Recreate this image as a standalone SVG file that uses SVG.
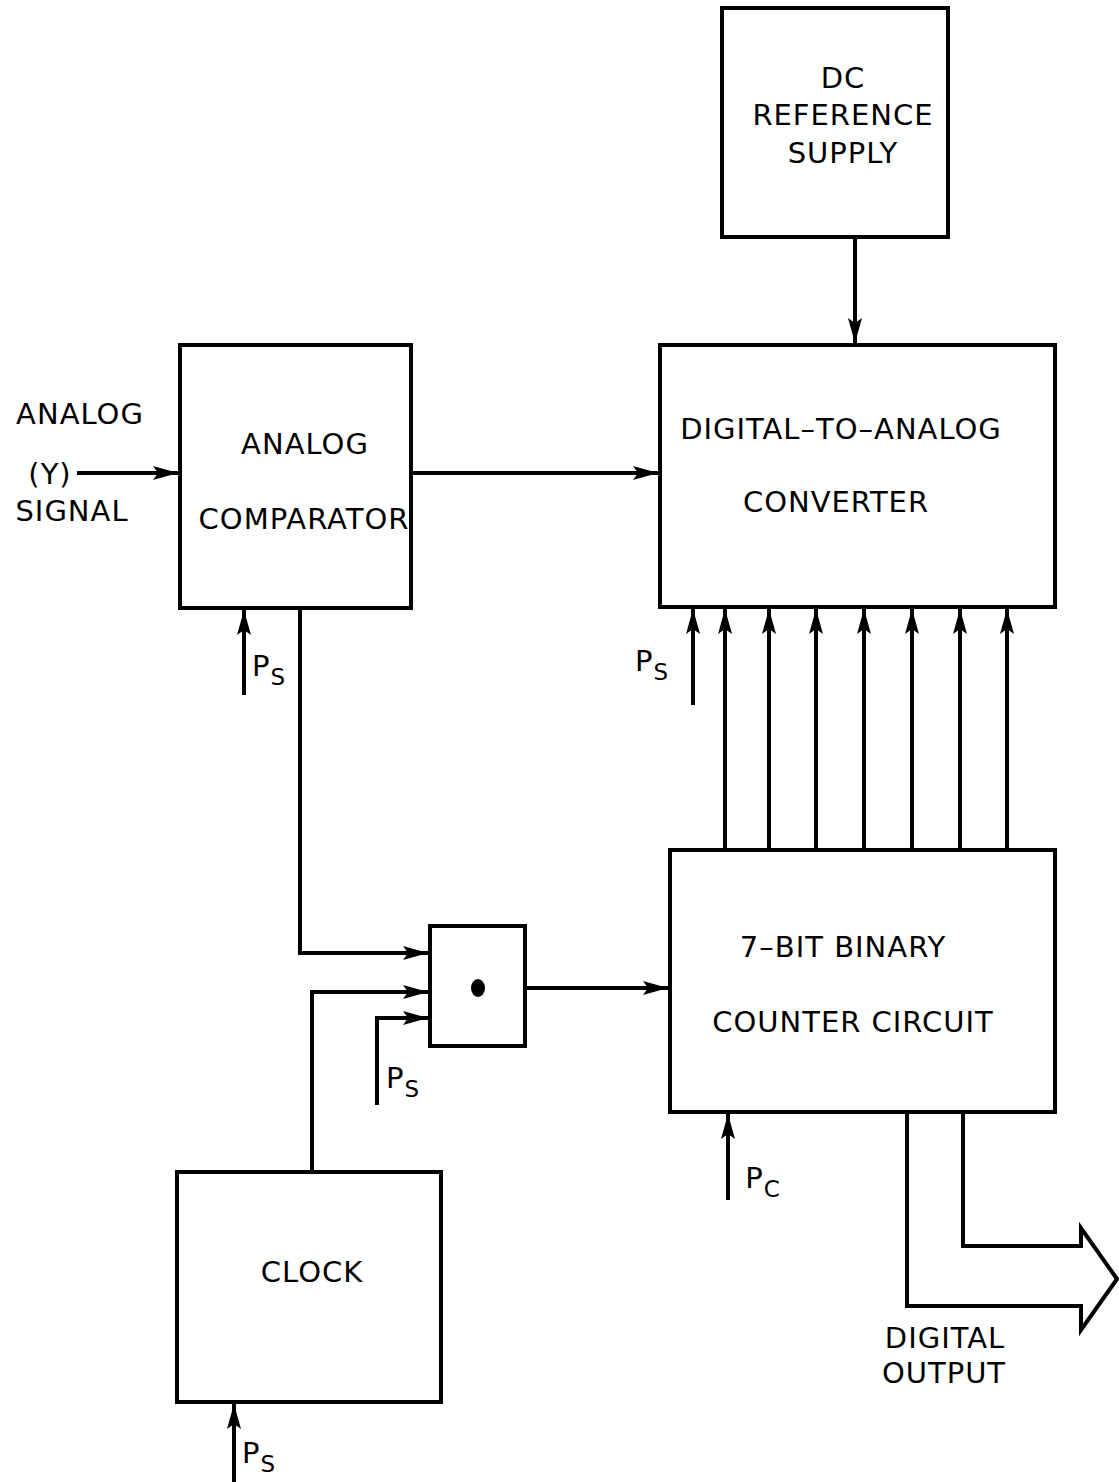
<svg xmlns="http://www.w3.org/2000/svg" width="1119" height="1482" viewBox="0 0 1119 1482">
<defs>
<marker id="ah" markerUnits="userSpaceOnUse" markerWidth="28" markerHeight="18" refX="25" refY="9" orient="auto">
<path d="M0,2 L25,9 L0,16 L5,9 Z" fill="#000"/>
</marker>
</defs>
<style>
.box{fill:#fff;stroke:#000;stroke-width:4}
.ln{fill:none;stroke:#000;stroke-width:4}
.t{font-family:"DejaVu Sans","Noto Sans",sans-serif;font-size:29px;letter-spacing:1px;fill:#000;text-anchor:middle}
.s{font-size:23px}
</style>
<rect width="1119" height="1482" fill="#fff"/>
<g id="connectors">
<line class="ln" x1="855" y1="237" x2="855" y2="343" marker-end="url(#ah)"/>
<line class="ln" x1="77" y1="473" x2="178" y2="473" marker-end="url(#ah)"/>
<line class="ln" x1="411" y1="473" x2="658" y2="473" marker-end="url(#ah)"/>
<line class="ln" x1="244" y1="695" x2="244" y2="610" marker-end="url(#ah)"/>
<polyline class="ln" points="300,608 300,953 428,953" marker-end="url(#ah)"/>
<polyline class="ln" points="312,1172 312,992 428,992" marker-end="url(#ah)"/>
<polyline class="ln" points="377,1105 377,1018 428,1018" marker-end="url(#ah)"/>
<line class="ln" x1="525" y1="988" x2="668" y2="988" marker-end="url(#ah)"/>
<line class="ln" x1="693" y1="705" x2="693" y2="609" marker-end="url(#ah)"/>
<line class="ln" x1="725" y1="850" x2="725" y2="609" marker-end="url(#ah)"/>
<line class="ln" x1="769" y1="850" x2="769" y2="609" marker-end="url(#ah)"/>
<line class="ln" x1="816" y1="850" x2="816" y2="609" marker-end="url(#ah)"/>
<line class="ln" x1="864" y1="850" x2="864" y2="609" marker-end="url(#ah)"/>
<line class="ln" x1="912" y1="850" x2="912" y2="609" marker-end="url(#ah)"/>
<line class="ln" x1="960" y1="850" x2="960" y2="609" marker-end="url(#ah)"/>
<line class="ln" x1="1007" y1="850" x2="1007" y2="609" marker-end="url(#ah)"/>
<line class="ln" x1="728" y1="1200" x2="728" y2="1114" marker-end="url(#ah)"/>
<line class="ln" x1="234" y1="1482" x2="234" y2="1404" marker-end="url(#ah)"/>
<path class="ln" d="M907,1112 L907,1306 L1081,1306 L1081,1330 L1117,1279 L1081,1228 L1081,1246 L963,1246 L963,1112"/>
</g>
<g id="dc_reference">
<rect class="box" x="722" y="8" width="226" height="229"/>
<text class="t" x="843" y="88">DC</text>
<text class="t" x="843" y="125">REFERENCE</text>
<text class="t" x="843" y="163">SUPPLY</text>
</g>
<g id="dac">
<rect class="box" x="660" y="345" width="395" height="262"/>
<text class="t" x="841" y="439">DIGITAL–TO–ANALOG</text>
<text class="t" x="836" y="512">CONVERTER</text>
</g>
<g id="comparator">
<rect class="box" x="180" y="345" width="231" height="263"/>
<text class="t" x="305" y="454">ANALOG</text>
<text class="t" x="304" y="529">COMPARATOR</text>
</g>
<g id="input_label">
<text class="t" x="80" y="424">ANALOG</text>
<text class="t" x="50" y="484">(Y)</text>
<text class="t" x="72" y="521">SIGNAL</text>
</g>
<g id="gate">
<rect class="box" x="430" y="926" width="95" height="120"/>
<ellipse cx="478" cy="988" rx="7" ry="9" fill="#000"/>
</g>
<g id="counter">
<rect class="box" x="670" y="850" width="385" height="262"/>
<text class="t" x="843" y="957">7–BIT BINARY</text>
<text class="t" x="853" y="1032">COUNTER CIRCUIT</text>
</g>
<g id="clock">
<rect class="box" x="177" y="1172" width="264" height="230"/>
<text class="t" x="312" y="1282">CLOCK</text>
</g>
<g id="labels">
<text class="t" x="269" y="676">P<tspan class="s" dy="9">S</tspan></text>
<text class="t" x="652" y="671">P<tspan class="s" dy="9">S</tspan></text>
<text class="t" x="403" y="1088">P<tspan class="s" dy="9">S</tspan></text>
<text class="t" x="763" y="1188">P<tspan class="s" dy="9">C</tspan></text>
<text class="t" x="259" y="1463">P<tspan class="s" dy="9">S</tspan></text>
<text class="t" x="945" y="1348">DIGITAL</text>
<text class="t" x="944" y="1383">OUTPUT</text>
</g>
</svg>
